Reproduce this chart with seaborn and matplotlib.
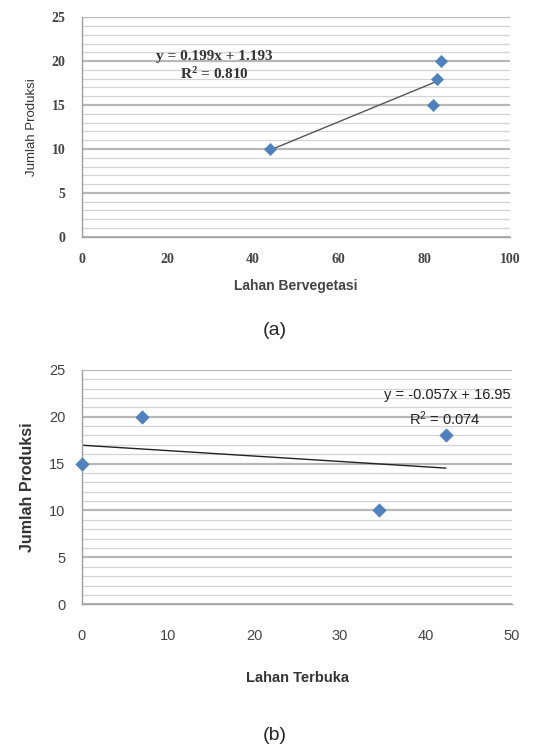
import numpy as np
import pandas as pd
import matplotlib
matplotlib.use('Agg')
import matplotlib.pyplot as plt
import seaborn as sns
from matplotlib.ticker import MultipleLocator

# Data
veg_x = [44, 82, 83, 84]
veg_y = [10, 15, 18, 20]
open_x = [0, 7, 34.5, 42.3]
open_y = [15, 20, 10, 18]

veg_eq = 'y = 0.199x + 1.193'
veg_r2 = 'R$^2$ = 0.810'
open_eq = 'y = -0.057x + 16.95'
open_r2 = 'R$^2$ = 0.074'

sns.set_style("white")
plt.rcParams['font.family'] = ['Liberation Sans', 'DejaVu Sans']
plt.rcParams['mathtext.default'] = 'regular'

fig = plt.figure(figsize=(5.5, 7.47), dpi=100)
ax1 = fig.add_axes([0.149, 0.683, 0.778, 0.294])
ax2 = fig.add_axes([0.149, 0.191, 0.782, 0.314])

point_color = '#4f81bd'


def style_axis(ax, xmax, xstep, tick_font, tick_size, tick_weight, xpad):
    ax.set_xlim(0, xmax)
    ax.set_ylim(0, 25)
    ax.xaxis.set_major_locator(MultipleLocator(xstep))
    ax.yaxis.set_major_locator(MultipleLocator(5))
    ax.yaxis.set_minor_locator(MultipleLocator(1))
    ax.grid(axis='y', which='major', color='#b8b8b8', linewidth=1.6)
    ax.grid(axis='y', which='minor', color='#d4d4d4', linewidth=0.9)
    ax.grid(axis='x', visible=False)
    ax.set_axisbelow(True)
    for s in ['top', 'right']:
        ax.spines[s].set_visible(False)
    for s in ['left', 'bottom']:
        ax.spines[s].set_color('#a0a0a0')
        ax.spines[s].set_linewidth(1.0)
    ax.tick_params(axis='both', which='major', direction='out', length=4,
                   color='#a0a0a0')
    ax.tick_params(axis='x', which='major', pad=xpad)
    ax.tick_params(axis='y', which='major', pad=8)
    ax.tick_params(axis='y', which='minor', length=0)
    for lab in ax.get_xticklabels() + ax.get_yticklabels():
        lab.set_family(tick_font)
        lab.set_fontsize(tick_size)
        lab.set_fontweight(tick_weight)
        lab.set_color('#444444')


# (a) Lahan Bervegetasi
sns.regplot(x=veg_x, y=veg_y, ax=ax1, ci=None, scatter=False,
            line_kws={'color': '#555555', 'linewidth': 1.0})
sns.scatterplot(x=veg_x, y=veg_y, ax=ax1, marker='D', s=38,
                color=point_color, edgecolor=point_color, zorder=5)
style_axis(ax1, 100, 20, 'Liberation Serif', 10, 'bold', 8)
ax1.set_xlabel('Lahan Bervegetasi', fontsize=10, fontweight='bold', color='#444444', labelpad=9)
ax1.set_ylabel('Jumlah Produksi', fontsize=9.5, color='#333333', labelpad=10)
ax1.text(31, 20.5, veg_eq, ha='center', va='center', fontsize=11,
         family='Liberation Serif', fontweight='bold', color='#333333')
ax1.text(31, 18.5, veg_r2, ha='center', va='center', fontsize=11,
         family='Liberation Serif', fontweight='bold', color='#333333')

# (b) Lahan Terbuka
sns.regplot(x=open_x, y=open_y, ax=ax2, ci=None, scatter=False,
            line_kws={'color': '#222222', 'linewidth': 1.0})
sns.scatterplot(x=open_x, y=open_y, ax=ax2, marker='D', s=45,
                color=point_color, edgecolor=point_color, zorder=5, clip_on=False)
style_axis(ax2, 50, 10, 'Liberation Sans', 10.5, 'normal', 14)
ax2.set_xlabel('Lahan Terbuka', fontsize=10.5, fontweight='bold', color='#333333',
               labelpad=20)
ax2.set_ylabel('Jumlah Produksi', fontsize=11.5, fontweight='bold', color='#333333',
               labelpad=10)
ax2.text(49.8, 22.3, open_eq, ha='right', va='center', fontsize=10.5, color='#222222')
ax2.text(42.2, 19.8, open_r2, ha='center', va='center', fontsize=10.5, color='#222222')

fig.text(0.5, 0.558, '(a)', ha='center', va='center', fontsize=14)
fig.text(0.5, 0.016, '(b)', ha='center', va='center', fontsize=14)

fig.savefig('out.png', dpi=100, facecolor='white')
